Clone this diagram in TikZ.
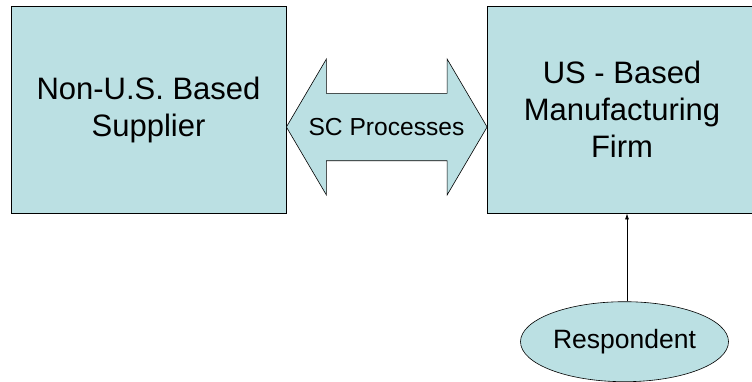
\documentclass[tikz,border=0pt]{standalone}
\usepackage{fontspec}
\setmainfont{Liberation Sans}
\usetikzlibrary{shapes.geometric,arrows.meta}
\definecolor{boxfill}{HTML}{BBE0E3}
\begin{document}
\begin{tikzpicture}[x=1pt,y=-1pt,
  block/.style={draw=black, line width=0.8pt, fill=boxfill, align=center,
    inner sep=0pt, font=\fontsize{31}{37}\selectfont},
  dblarrow/.style={draw=black, line width=0.6pt, fill=boxfill, line join=miter},
  oval/.style={ellipse, draw=black, line width=0.6pt, fill=boxfill, inner sep=0pt,
    font=\fontsize{26.5}{30}\selectfont},
  link/.style={draw=black, line width=0.7pt, -{Latex[length=6pt,width=4pt]}}]
\useasboundingbox (0,0) rectangle (752,381);
\clip (0,0) rectangle (752,381);

% the two parties
\node[block, minimum width=275pt, minimum height=207pt] (sup) at (148.5,109.5)
  {Non-U.S. Based\\Supplier};
\node[block, minimum width=270pt, minimum height=207pt] (firm) at (622,109.5)
  {US - Based\\Manufacturing\\Firm};

% two-headed block arrow between them
\coordinate (L) at ([yshift=-17.5pt]sup.east);
\path[dblarrow] (L) -- ++(40,-68) -- ++(0,34.3) -- ++(120.7,0) -- ++(0,-34.3)
  -- ++(40,68) -- ++(-40,68) -- ++(0,-34.3) -- ++(-120.7,0) -- ++(0,34.3) -- cycle;
\node[font=\fontsize{24.6}{28}\selectfont, inner sep=0pt] (sc) at (386.5,127.5) {SC Processes};

% respondent feeding the firm
\node[oval, minimum width=208pt, minimum height=80pt] (resp) at (624.5,341.7) {Respondent};
\draw[link] ([xshift=2.5pt]resp.north) -- ([xshift=2.5pt]resp.north |- firm.south);
\end{tikzpicture}
\end{document}
